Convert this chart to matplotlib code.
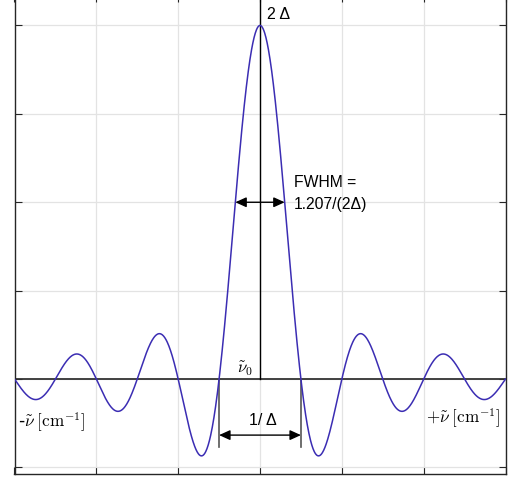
import numpy as np
import matplotlib.pyplot as plt
from matplotlib.patches import FancyArrowPatch

plt.rcParams['mathtext.fontset'] = 'cm'

# instrument line shape of a boxcar of width 2*delta (sinc), delta = 1
delta = 1.0
nu0 = 0.0
nu_min, nu_max = -3.0, 3.0
fwhm_factor = 1.207
x_ticks = [-3, -2, -1, 0, 1, 2, 3]
y_ticks = [-0.5, 0, 0.5, 1.0, 1.5, 2.0]

nu = np.linspace(nu_min, nu_max, 1200)
ils = 2 * delta * np.sinc(2 * delta * (nu - nu0))

fig = plt.figure(figsize=(5.22, 4.81), dpi=100)
ax = fig.add_axes([14.5 / 522, 6 / 481, 491 / 522, 478.6 / 481])

ax.plot(nu, ils, color='#3b2db3', lw=1.1, zorder=3)
ax.axhline(0, color='#333333', lw=1.3, zorder=2)
ax.plot([nu0, nu0], [0, 2.3], color='black', lw=1.0, zorder=2)

zero = 1 / (2 * delta)
ax.plot([-zero, -zero], [0, -0.385], color='#555555', lw=1.2)
ax.plot([zero, zero], [0, -0.385], color='#555555', lw=1.2)

arrow = '<|-|>,head_length=0.55,head_width=0.25'
ax.add_patch(FancyArrowPatch((-zero, -0.317), (zero, -0.317), arrowstyle=arrow,
                             mutation_scale=12, color='black', lw=1.0, shrinkA=0, shrinkB=0))
half = fwhm_factor / (2 * delta) / 2
ax.add_patch(FancyArrowPatch((-half, 1.0), (half, 1.0), arrowstyle=arrow,
                             mutation_scale=12, color='black', lw=1.0, shrinkA=0, shrinkB=0, zorder=4))

sans = 'Liberation Sans'
ax.text(0.085, 2.065, '2 Δ', family=sans, fontsize=11.5, va='center', ha='left')
ax.text(0.415, 1.12, 'FWHM =', family=sans, fontsize=11.3, va='center', ha='left')
ax.text(0.415, 0.995, '1.207/(2Δ)', family=sans, fontsize=11.3, va='center', ha='left')
ax.text(0.03, -0.226, '1/ Δ', family=sans, fontsize=11.5, va='center', ha='center')
ax.text(-0.18, 0.01, r'$\tilde{\nu}_0$', fontsize=12, va='bottom', ha='center')
ax.text(-2.96, -0.237, r'-$\tilde{\nu}\;[\mathrm{cm}^{-1}]$', fontsize=12.3, va='center', ha='left')
ax.text(2.93, -0.215, r'$+\tilde{\nu}\;[\mathrm{cm}^{-1}]$', fontsize=12.3, va='center', ha='right')

ax.set_xlim(nu_min, nu_max)
ax.set_ylim(-0.537, 2.17)
ax.set_xticks(x_ticks)
ax.set_yticks(y_ticks)
ax.set_xticklabels([])
ax.set_yticklabels([])
ax.tick_params(direction='in', length=5, width=0.8, top=True, right=True, color='#262626')
ax.grid(True, color='#e3e3e3', lw=0.9)
ax.set_axisbelow(True)
for s in ax.spines.values():
    s.set_color('#262626')
    s.set_linewidth(1.0)

fig.savefig('out.png', dpi=100)
